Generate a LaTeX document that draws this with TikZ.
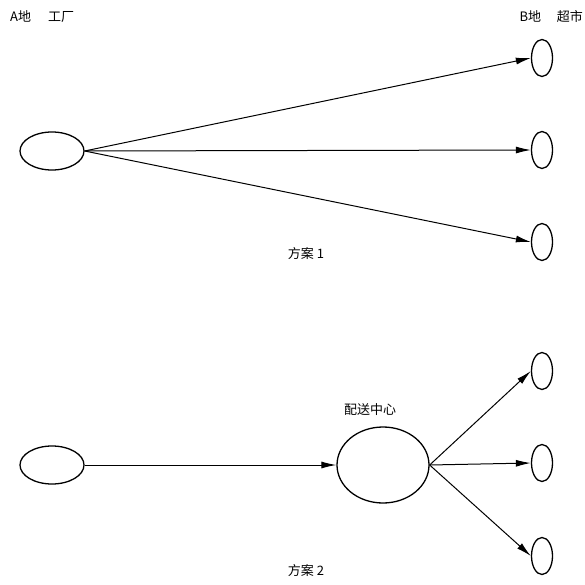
\documentclass[tikz,border=0pt]{standalone}
\usepackage{fontspec}
\newfontfamily\cjk{Noto Sans CJK SC}
\usetikzlibrary{shapes.geometric,arrows.meta}
\begin{document}
\begin{tikzpicture}[x=1pt,y=-1pt,
  big/.style={draw,ellipse,line width=1.3pt,minimum width=64pt,minimum height=38pt,inner sep=0pt},
  small/.style={draw,ellipse,line width=1.3pt,minimum width=21pt,minimum height=37pt,inner sep=0pt},
  center/.style={draw,ellipse,line width=1.3pt,minimum width=92pt,minimum height=76pt,inner sep=0pt},
  lbl/.style={font=\cjk\fontsize{13}{15}\selectfont,inner sep=1pt},
  arr/.style={line width=1pt,-{Latex[length=15pt,width=7pt]}}]
\useasboundingbox (0,0) rectangle (585,585);
\node[lbl,anchor=west] (ta) at (9,17) {A地\hspace{1.3em}工厂};
\node[lbl,anchor=east] (tb) at (584,17) {B地\hspace{1.2em}超市};
% plan 1
\node[big] (f1) at (52,151) {};
\node[small] (s1) at (542,58) {};
\node[small] (s2) at (542,150) {};
\node[small] (s3) at (542,242) {};
\draw[arr] (f1.east) -- (s1.west);
\draw[arr] (f1.east) -- (s2.west);
\draw[arr] (f1.east) -- (s3.west);
\node[lbl] (p1) at (306,254) {方案 1};
% plan 2
\node[big] (f2) at (52,465) {};
\node[center] (c) at (383,465) {};
\node[lbl] (cl) at (370,410) {配送中心};
\node[small] (t1) at (542,371) {};
\node[small] (t2) at (542,463) {};
\node[small] (t3) at (542,556) {};
\draw[arr] (f2.east) -- (c.west);
\draw[arr] (c.east) -- (t1.west);
\draw[arr] (c.east) -- (t2.west);
\draw[arr] (c.east) -- (t3.west);
\node[lbl] (p2) at (306,571) {方案 2};
\end{tikzpicture}
\end{document}
